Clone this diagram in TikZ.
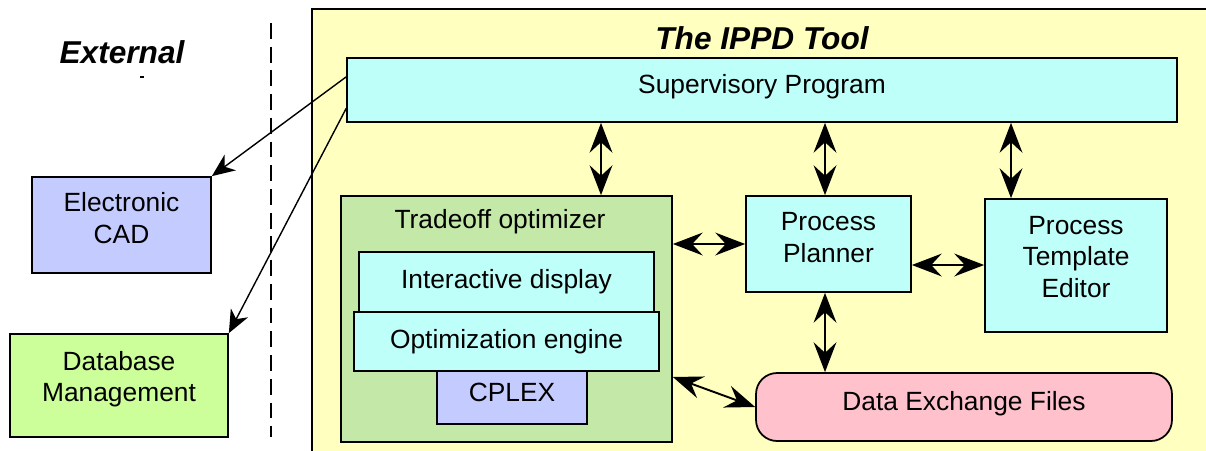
\documentclass[tikz,border=0pt]{standalone}
\usepackage{fontspec}
\setmainfont{Liberation Sans}
\usetikzlibrary{arrows.meta,calc}
\definecolor{yel}{HTML}{FFFFC0}
\definecolor{cya}{HTML}{BFFFFA}
\definecolor{grn}{HTML}{C4E8A8}
\definecolor{lgr}{HTML}{CCFF99}
\definecolor{lav}{HTML}{C4CCFF}
\definecolor{pnk}{HTML}{FFC2CC}
\tikzset{
  box/.style={draw=black, line width=1pt, inner sep=0pt, align=center,
    font=\fontsize{15}{18}\selectfont},
  lbl/.style={font=\fontsize{15}{18}\selectfont, inner sep=0pt, align=center},
  ttl/.style={font=\fontsize{18}{21}\selectfont\bfseries\itshape, inner sep=0pt},
  dbl/.style={line width=1.1pt, {Stealth[length=17pt,width=13pt,inset=6pt]}-{Stealth[length=17pt,width=13pt,inset=6pt]}},
  sgl/.style={line width=0.8pt, -{Stealth[length=13pt,width=11pt,inset=4pt]}},
}
\begin{document}
\begin{tikzpicture}[x=0.02cm,y=-0.02cm]
\useasboundingbox (0,0) rectangle (1206,450);
% yellow area
\begin{scope}
\clip (0,0) rectangle (1206,450);
\draw[fill=yel, line width=1.1pt] (312,9) rectangle (1220,470);
\end{scope}
\node[ttl] (ttool) at (762,38) {The IPPD Tool};
\node[ttl] (text) at (122,52) {External};
\draw[line width=0.6pt] (140,77) -- (144,77);
\draw[line width=1.2pt, dash pattern=on 9pt off 4.5pt] (271,23) -- (271,437);
% boxes
\node[box, fill=lav, minimum width=3.58cm, minimum height=1.92cm] (cad) at (121.5,225) {};
\node[lbl] (cadtxt) at (121.5,218) {Electronic\\CAD};
\node[box, fill=lgr, minimum width=4.36cm, minimum height=2.06cm] (db) at (119,385.5) {};
\node[lbl] (dbtxt) at (119,379) {Database\\Management};
\node[box, fill=cya, minimum width=16.6cm, minimum height=1.28cm] (sup) at (762,90) {};
\node[lbl] (suptxt) at (762,87) {Supervisory Program};
\node[box, fill=grn, minimum width=6.62cm, minimum height=4.92cm] (trade) at (506.5,319) {};
\node[lbl] (tradetxt) at (500,222) {Tradeoff optimizer};
\node[box, fill=cya, minimum width=5.9cm, minimum height=1.2cm] (inter) at (506.5,282) {Interactive display};
\node[box, fill=lav, minimum width=3.0cm, minimum height=1.06cm] (cplex) at (512,397.5) {};
\node[box, fill=cya, minimum width=6.1cm, minimum height=1.18cm] (opt) at (506.5,341.5) {Optimization engine};
\node[lbl] (cplextxt) at (512,392) {CPLEX};
\node[box, fill=cya, minimum width=3.3cm, minimum height=1.92cm] (pp) at (828.5,244) {};
\node[lbl] (pptxt) at (828.5,237.5) {Process\\Planner};
\node[box, fill=cya, minimum width=3.64cm, minimum height=2.66cm] (pte) at (1076,265.5) {};
\node[lbl] (ptetxt) at (1076,257) {Process\\Template\\Editor};
\node[box, fill=pnk, rounded corners=0.42cm, minimum width=8.32cm, minimum height=1.36cm] (def) at (964,407) {};
\node[lbl] (deftxt) at (964,404) {Data Exchange Files};
% connectors
\coordinate (c1) at ($(sup.north west)!0.3!(sup.south west)$);
\coordinate (c2) at ($(sup.north west)!0.78!(sup.south west)$);
\draw[sgl] (c1) -- (cad.north east);
\draw[sgl] (c2) -- (db.north east);
\coordinate (xa) at (601,0);
\coordinate (xb) at (825,0);
\coordinate (xc) at (1011,0);
\coordinate (yd) at (0,265);
\coordinate (ye) at (0,377);
\draw[dbl] (sup.south -| xa) -- (trade.north -| xa);
\draw[dbl] (sup.south -| xb) -- (pp.north -| xb);
\draw[dbl] (sup.south -| xc) -- (pte.north -| xc);
\draw[dbl] (trade.east |- pp.west) -- (pp.west);
\draw[dbl] (pp.east |- yd) -- (pte.west |- yd);
\draw[dbl] (pp.south -| xb) -- (def.north -| xb);
\draw[dbl] (trade.east |- ye) -- (def.west);
\end{tikzpicture}
\end{document}
